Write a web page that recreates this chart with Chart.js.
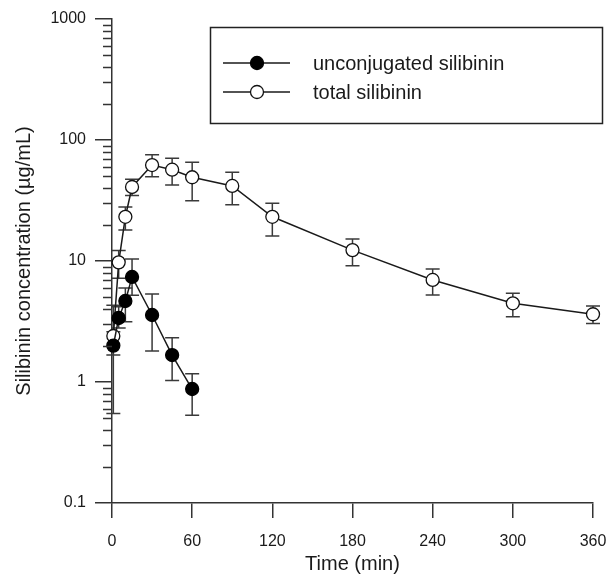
<!DOCTYPE html>
<html>
<head>
<meta charset="utf-8">
<script src="https://cdn.jsdelivr.net/npm/chart.js@4/dist/chart.umd.min.js"></script>
<style>
html,body{margin:0;padding:0;background:#fff;}
#wrap{width:608px;height:576px;position:relative;}
</style>
</head>
<body>
<div id="wrap"><canvas id="c" width="608" height="576"></canvas></div>
<script>
// ---- data ----
const seriesNames = ['unconjugated silibinin', 'total silibinin'];
const timeUnconj = [1, 5, 10, 15, 30, 45, 60];
const unconjMean = [2.0, 3.38, 4.67, 7.38, 3.58, 1.67, 0.875];
const unconjUpper = [2.6, 4.19, 5.98, 10.4, 5.33, 2.32, 1.17];
const unconjLower = [1.67, 2.8, 3.15, 5.2, 1.80, 1.03, 0.53];

const timeTotal = [1, 5, 10, 15, 30, 45, 60, 90, 120, 180, 240, 300, 360];
const totalMean = [2.4, 9.75, 23.2, 40.9, 62.1, 56.8, 49.2, 41.7, 23.2, 12.3, 6.97, 4.47, 3.63];
const totalUpper = [4.3, 12.2, 28.0, 47.4, 75.4, 70.6, 65.4, 54.2, 30.0, 15.2, 8.6, 5.41, 4.24];
const totalLower = [0.55, 7.2, 18.0, 34.7, 49.7, 42.4, 31.5, 29.1, 16.1, 9.13, 5.24, 3.46, 3.05];

const xTickValues = [0, 60, 120, 180, 240, 300, 360];
const yTickValues = [0.1, 1, 10, 100, 1000];
const yTickLabels = ['0.1', '1', '10', '100', '1000'];
const xTitle = 'Time (min)';
const yTitle = 'Silibinin concentration (\u00b5g/mL)';

const FONT = "'Liberation Sans', Arial, Helvetica, sans-serif";
const TXT = '#1a1a1a';
const AX = '#333333';

function pts(xs, ys) { return xs.map((x, i) => ({x: x, y: ys[i]})); }

const errorBars = {
  id: 'errorBars',
  beforeDatasetsDraw(chart) {
    const ctx = chart.ctx, xs = chart.scales.x, ys = chart.scales.y;
    const sets = [[timeUnconj, unconjUpper, unconjLower], [timeTotal, totalUpper, totalLower]];
    ctx.save();
    ctx.strokeStyle = '#3a3a3a';
    ctx.lineWidth = 1.5;
    sets.forEach(([t, up, lo]) => {
      t.forEach((tv, i) => {
        const px = xs.getPixelForValue(tv);
        const pu = ys.getPixelForValue(up[i]);
        const pl = ys.getPixelForValue(lo[i]);
        ctx.beginPath();
        ctx.moveTo(px, pu); ctx.lineTo(px, pl);
        ctx.moveTo(px - 7, pu); ctx.lineTo(px + 7, pu);
        ctx.moveTo(px - 7, pl); ctx.lineTo(px + 7, pl);
        ctx.stroke();
      });
    });
    ctx.restore();
  }
};

const minorTicks = {
  id: 'minorTicks',
  afterDraw(chart) {
    const ctx = chart.ctx, ys = chart.scales.y;
    const right = ys.right;
    ctx.save();
    ctx.strokeStyle = AX;
    ctx.lineWidth = 1.5;
    ctx.beginPath();
    for (let d = 0; d < yTickValues.length - 1; d++) {
      for (let m = 2; m <= 9; m++) {
        const v = yTickValues[d] * m;
        const py = Math.round(ys.getPixelForValue(v)) + 0.5;
        ctx.moveTo(right - 9, py); ctx.lineTo(right, py);
      }
    }
    ctx.stroke();
    ctx.restore();
  }
};

const legendBox = {
  id: 'legendBox',
  afterDraw(chart) {
    const ctx = chart.ctx;
    ctx.save();
    ctx.strokeStyle = '#222';
    ctx.lineWidth = 1.5;
    ctx.strokeRect(210.5, 27.5, 392, 96);
    const rows = [63, 92];
    chart.data.datasets.forEach((ds, i) => {
      const y = rows[i];
      ctx.strokeStyle = ds.borderColor;
      ctx.lineWidth = ds.borderWidth;
      ctx.beginPath();
      ctx.moveTo(223, y); ctx.lineTo(290, y);
      ctx.stroke();
      ctx.beginPath();
      ctx.arc(257, y, ds.pointRadius, 0, Math.PI * 2);
      ctx.fillStyle = ds.pointBackgroundColor;
      ctx.fill();
      ctx.lineWidth = ds.pointBorderWidth;
      ctx.strokeStyle = ds.pointBorderColor;
      ctx.stroke();
      ctx.fillStyle = TXT;
      ctx.font = '20px ' + FONT;
      ctx.textBaseline = 'middle';
      ctx.textAlign = 'left';
      ctx.fillText(ds.label, 313, y + 1);
    });
    ctx.restore();
  }
};

new Chart(document.getElementById('c'), {
  type: 'line',
  data: {
    datasets: [
      {
        label: seriesNames[0],
        data: pts(timeUnconj, unconjMean),
        borderColor: '#1a1a1a', borderWidth: 1.5,
        pointRadius: 6.5, pointBorderWidth: 1.3,
        pointBackgroundColor: '#000', pointBorderColor: '#000',
        tension: 0, clip: false
      },
      {
        label: seriesNames[1],
        data: pts(timeTotal, totalMean),
        borderColor: '#1a1a1a', borderWidth: 1.5,
        pointRadius: 6.5, pointBorderWidth: 1.3,
        pointBackgroundColor: '#fff', pointBorderColor: '#111',
        tension: 0, clip: false
      }
    ]
  },
  options: {
    responsive: false,
    animation: false,
    devicePixelRatio: 1,
    layout: {padding: {top: 19, right: 15, left: 0, bottom: 0}},
    plugins: {legend: {display: false}, tooltip: {enabled: false}},
    scales: {
      x: {
        type: 'linear', min: 0, max: 360,
        afterBuildTicks(s) { s.ticks = xTickValues.map(v => ({value: v})); },
        afterFit(s) { s.height = 73; s.paddingLeft = 0; s.paddingRight = 0; },
        grid: {drawOnChartArea: false, tickLength: 15, color: AX, lineWidth: 1.5, tickColor: AX},
        border: {display: true, color: AX, width: 1.5},
        ticks: {color: TXT, font: {family: FONT, size: 16}, padding: 14, maxRotation: 0},
        title: {display: true, text: xTitle, color: TXT, font: {family: FONT, size: 20}, padding: {top: 0, bottom: 0}}
      },
      y: {
        type: 'logarithmic', min: 0.1, max: 1000,
        afterBuildTicks(s) { s.ticks = yTickValues.map(v => ({value: v})); },
        afterFit(s) { s.width = 112; s.paddingTop = 0; s.paddingBottom = 0; },
        grid: {drawOnChartArea: false, tickLength: 17, color: AX, lineWidth: 1.5, tickColor: AX},
        border: {display: true, color: AX, width: 1.5},
        ticks: {
          color: TXT, font: {family: FONT, size: 16}, padding: 9,
          callback(v) { const i = yTickValues.indexOf(v); return i >= 0 ? yTickLabels[i] : ''; }
        },
        title: {display: true, text: yTitle, color: TXT, font: {family: FONT, size: 20}, padding: {top: 12, bottom: 0}}
      }
    }
  },
  plugins: [errorBars, minorTicks, legendBox]
});
</script>
</body>
</html>
